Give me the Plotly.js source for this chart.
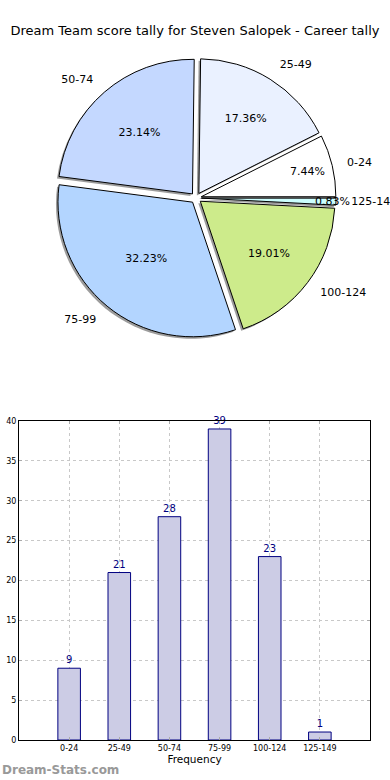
<!DOCTYPE html>
<html><head><meta charset="utf-8">
<script src="https://cdn.plot.ly/plotly-3.0.1.min.js"></script>
<style>html,body{margin:0;padding:0;background:#fff}#chart{width:390px;height:780px}</style>
</head><body><div id="chart"></div>
<script>
const categories = ['0-24','25-49','50-74','75-99','100-124','125-149'];
const counts = [9, 21, 28, 39, 23, 1];
const pieColors = ['#FFFFFF','#EAF1FF','#C4D8FF','#B3D5FF','#CDEB8B','#CCFFFF'];
const titleText = 'Dream Team score tally for Steven Salopek - Career tally';

const W = 390, H = 780;
const fx = p => p / W, fy = p => 1 - p / H;
const total = counts.reduce((a,b)=>a+b,0);
// first slice starts at 3 o'clock and runs counterclockwise (matplotlib default)
const rot = 90 - 360 * counts[0] / total;
const pull = categories.map(() => 0.04);
const cx = 196, cy = 198, half = 140, labHalf = 152;
const pieDomain = {x:[fx(cx-half), fx(cx+half)], y:[fy(cy+half), fy(cy-half)]};
const common = {type:'pie', labels:categories, values:counts, sort:false, direction:'counterclockwise', rotation:rot, pull:pull, hoverinfo:'skip'};

const shadow = Object.assign({}, common, {
  domain:{x:[fx(cx-half-2), fx(cx+half-2)], y:[fy(cy+half+2), fy(cy-half+2)]},
  marker:{colors:categories.map(()=> 'rgba(90,90,90,0.6)'), line:{width:0}},
  textinfo:'none', showlegend:false
});
const main = Object.assign({}, common, {
  domain:pieDomain,
  marker:{colors:pieColors, line:{color:'#000', width:1}},
  texttemplate:'%{percent:.2%}', textposition:'inside', insidetextorientation:'horizontal',
  insidetextfont:{family:'DejaVu Sans', size:11, color:'#000'}, showlegend:false
});
const lbl = Object.assign({}, common, {
  domain:{x:[fx(cx-labHalf), fx(cx+labHalf)], y:[fy(cy+labHalf), fy(cy-labHalf)]},
  marker:{colors:categories.map(()=> 'rgba(0,0,0,0)'), line:{width:0}},
  texttemplate:'%{label}', textposition:'outside',
  outsidetextfont:{family:'DejaVu Sans', size:11, color:'#000'}, showlegend:false
});
const bars = {
  type:'bar', x:categories, y:counts, width:0.45, xaxis:'x', yaxis:'y',
  marker:{color:'#CCCCE5', line:{color:'#000080', width:1}},
  text:counts.map(String), textposition:'outside', cliponaxis:false, constraintext:'none',
  textfont:{family:'DejaVu Sans', size:10, color:'#000080'}, showlegend:false, hoverinfo:'skip'
};

const layout = {
  width:W, height:H, margin:{l:0,r:0,t:0,b:0}, paper_bgcolor:'#fff', plot_bgcolor:'#fff',
  font:{family:'DejaVu Sans', color:'#000'},
  title:{text:titleText, x:0.5, xanchor:'center', y:fy(30), yanchor:'middle', font:{family:'DejaVu Sans', size:13, color:'#000'}},
  uniformtext:{mode:'show', minsize:10},
  xaxis:{domain:[fx(19), fx(370)], range:[-1, 6], type:'category', showline:true, linecolor:'#000', linewidth:1, mirror:'ticks',
    ticks:'inside', ticklen:3, tickcolor:'#aaa', showgrid:true, gridcolor:'#c8c8c8', griddash:'dot', gridwidth:1,
    tickfont:{size:8, color:'#000'}, layer:'above traces', zeroline:false,
    title:{text:'Frequency', font:{size:10.5, color:'#000'}, standoff:2}},
  yaxis:{domain:[fy(740), fy(421)], range:[0, 40], dtick:5, showline:true, linecolor:'#000', linewidth:1, mirror:'ticks',
    ticks:'inside', ticklen:3, tickcolor:'#aaa', showgrid:true, gridcolor:'#c8c8c8', griddash:'dot', gridwidth:1,
    tickfont:{size:8, color:'#000'}, layer:'above traces', zeroline:false},
  annotations:[{text:'<b>Dream-Stats.com</b>', xref:'paper', yref:'paper', x:0, y:fy(770), xanchor:'left', yanchor:'middle', showarrow:false,
    font:{family:'DejaVu Sans', size:12, color:'#999'}}]
};
Plotly.newPlot('chart', [shadow, main, lbl, bars], layout, {displayModeBar:false, staticPlot:true});
</script></body></html>
